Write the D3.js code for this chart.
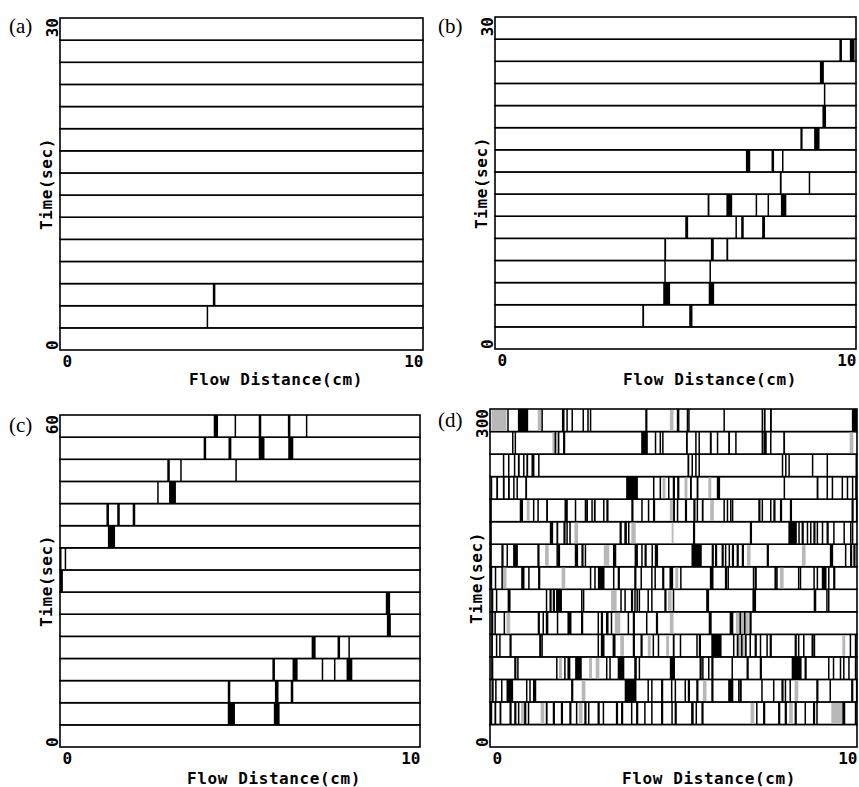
<!DOCTYPE html>
<html>
<head>
<meta charset="utf-8">
<script src="https://cdn.jsdelivr.net/npm/d3@7/dist/d3.min.js"></script>
<style>
  body { margin: 0; background: #fff; }
  .ax text { font-family: "DejaVu Sans Mono", monospace; font-weight: bold; font-size: 16px; fill: #000; }
  .tag { font-family: "Liberation Serif", serif; font-size: 21px; fill: #000; }
</style>
</head>
<body>
<svg id="chart" width="859" height="787"></svg>
<script>
// each row is one time step (row 0 = t=0, bottom), marks are [position cm, length cm]
const panelTags = ["(a)", "(b)", "(c)", "(d)"]
const timeMax = [30, 30, 60, 300]
const distTicks = [0, 10]

const aRows = [
  [],
  [[4.04, 0.04]],
  [[4.21, 0.07]],
  [], [], [], [], [], [], [], [], [], [], [], []
]

const bRows = [
  [],
  [[4.08, 0.05], [5.38, 0.09]],
  [[4.66, 0.19], [5.92, 0.15]],
  [[4.69, 0.04], [5.94, 0.04]],
  [[4.69, 0.05], [5.98, 0.08], [6.41, 0.05]],
  [[5.27, 0.08], [6.66, 0.04], [6.82, 0.07], [7.40, 0.08]],
  [[5.89, 0.05], [6.41, 0.16], [7.22, 0.04], [7.55, 0.04], [7.92, 0.15]],
  [[7.89, 0.05], [8.69, 0.04]],
  [[6.95, 0.12], [7.66, 0.07], [7.95, 0.04]],
  [[8.46, 0.06], [8.84, 0.15]],
  [[9.07, 0.10]],
  [[9.11, 0.04]],
  [[9.00, 0.11]],
  [[9.54, 0.07], [9.83, 0.13]],
  []
]

const cRows = [
  [],
  [[4.66, 0.20], [5.94, 0.16]],
  [[4.66, 0.07], [5.97, 0.10], [6.41, 0.07]],
  [[5.90, 0.07], [6.46, 0.14], [7.27, 0.04], [7.61, 0.04], [7.96, 0.16]],
  [[6.99, 0.11], [7.71, 0.07], [8.01, 0.04]],
  [[9.08, 0.11]],
  [[9.05, 0.12]],
  [[0.00, 0.08]],
  [[0.00, 0.04], [0.13, 0.04]],
  [[1.33, 0.20]],
  [[1.29, 0.07], [1.59, 0.07], [2.02, 0.07]],
  [[2.70, 0.04], [3.03, 0.19]],
  [[2.98, 0.07], [3.34, 0.04], [4.87, 0.04]],
  [[3.99, 0.07], [4.68, 0.08], [5.52, 0.16], [6.34, 0.14]],
  [[4.27, 0.12], [4.85, 0.04], [5.52, 0.07], [6.33, 0.07], [6.83, 0.04]]
]

const dRows = [
  [],
  [[0.00, 0.06], [0.12, 0.05], [0.26, 0.05], [0.53, 0.06], [0.66, 0.06], [0.76, 0.03], [0.93, 0.06], [1.03, 0.03],
   [1.52, 0.05], [1.71, 0.06], [1.93, 0.06], [2.16, 0.06], [2.34, 0.04], [2.57, 0.06], [2.67, 0.03], [2.93, 0.06],
   [3.07, 0.03], [3.43, 0.06], [3.57, 0.06], [3.84, 0.04], [3.98, 0.06], [4.20, 0.04], [4.39, 0.04], [4.66, 0.06],
   [4.94, 0.04], [5.03, 0.06], [5.48, 0.07], [5.60, 0.03], [5.76, 0.06], [7.25, 0.04], [7.44, 0.06], [7.85, 0.06],
   [8.03, 0.06], [8.30, 0.06], [8.57, 0.04], [8.80, 0.06], [8.89, 0.04], [9.60, 0.08], [9.94, 0.05]],
  [[0.04, 0.06], [0.14, 0.03], [0.30, 0.03], [0.45, 0.18], [0.98, 0.03], [1.07, 0.03], [1.17, 0.09], [2.21, 0.06],
   [3.67, 0.32], [4.29, 0.03], [4.39, 0.03], [4.66, 0.06], [4.93, 0.04], [5.03, 0.03], [5.30, 0.03], [5.39, 0.06],
   [5.62, 0.06], [6.03, 0.06], [6.49, 0.14], [6.76, 0.03], [6.80, 0.06], [7.39, 0.03], [7.71, 0.03], [7.94, 0.06],
   [8.03, 0.03], [8.16, 0.03], [8.89, 0.06], [9.25, 0.03], [9.84, 0.06], [9.97, 0.03]],
  [[0.03, 0.06], [0.66, 0.06], [0.74, 0.03], [1.80, 0.03], [2.02, 0.03], [2.11, 0.08], [2.32, 0.18], [3.16, 0.03],
   [3.25, 0.03], [3.48, 0.18], [3.93, 0.07], [4.05, 0.03], [4.90, 0.14], [5.71, 0.06], [5.78, 0.03], [5.94, 0.03],
   [6.03, 0.06], [6.58, 0.03], [6.99, 0.06], [7.35, 0.06], [8.22, 0.27], [8.57, 0.06], [9.21, 0.03], [9.34, 0.03],
   [9.53, 0.03], [9.62, 0.03], [9.76, 0.03], [9.94, 0.03]],
  [[0.03, 0.05], [0.16, 0.03], [0.25, 0.03], [0.53, 0.06], [1.34, 0.06], [1.40, 0.03], [2.93, 0.03], [3.02, 0.10],
   [3.34, 0.08], [3.89, 0.06], [4.10, 0.06], [4.43, 0.03], [4.57, 0.03], [4.98, 0.05], [5.17, 0.03], [5.62, 0.03],
   [5.69, 0.06], [6.03, 0.28], [6.62, 0.03], [6.73, 0.03], [6.84, 0.03], [6.95, 0.03], [7.07, 0.03], [7.21, 0.06],
   [7.35, 0.03], [7.53, 0.03], [7.62, 0.06], [8.30, 0.06], [8.39, 0.03], [8.53, 0.03], [8.76, 0.06], [8.82, 0.03],
   [9.80, 0.03], [9.94, 0.05]],
  [[0.03, 0.06], [0.12, 0.03], [0.37, 0.04], [1.30, 0.06], [1.43, 0.03], [1.52, 0.07], [1.82, 0.03], [2.11, 0.11],
   [2.48, 0.06], [2.93, 0.03], [3.02, 0.06], [3.16, 0.07], [3.29, 0.03], [3.75, 0.03], [3.89, 0.06], [4.25, 0.03],
   [4.52, 0.06], [5.96, 0.08], [6.53, 0.10], [6.80, 0.03], [6.92, 0.03], [7.07, 0.06]],
  [[0.03, 0.06], [0.16, 0.03], [0.48, 0.08], [1.52, 0.03], [1.62, 0.06], [1.71, 0.06], [1.80, 0.16], [2.48, 0.03],
   [2.53, 0.03], [3.55, 0.03], [3.66, 0.03], [3.84, 0.06], [3.93, 0.03], [3.99, 0.03], [4.05, 0.03], [4.29, 0.03],
   [4.39, 0.03], [4.75, 0.06], [4.98, 0.03], [5.89, 0.08], [7.15, 0.10], [8.82, 0.07], [9.16, 0.03], [9.21, 0.03]],
  [[0.00, 0.06], [0.13, 0.03], [0.31, 0.03], [0.85, 0.09], [1.04, 0.03], [1.31, 0.06], [2.72, 0.03], [2.84, 0.04],
   [2.94, 0.18], [3.35, 0.03], [3.48, 0.06], [3.93, 0.06], [4.10, 0.03], [4.39, 0.03], [4.48, 0.03], [4.69, 0.06],
   [4.89, 0.10], [5.18, 0.03], [5.99, 0.10], [6.40, 0.06], [6.47, 0.03], [7.16, 0.03], [7.21, 0.06], [7.75, 0.06],
   [7.80, 0.03], [8.39, 0.03], [8.44, 0.03], [8.81, 0.03], [8.90, 0.03], [9.04, 0.13], [9.21, 0.03], [9.35, 0.06]],
  [[0.00, 0.05], [0.31, 0.06], [0.45, 0.03], [0.63, 0.13], [1.29, 0.06], [1.81, 0.03], [1.85, 0.06], [2.31, 0.09],
   [2.49, 0.06], [2.58, 0.04], [3.35, 0.09], [3.94, 0.09], [4.12, 0.03], [4.21, 0.06], [4.40, 0.04], [4.49, 0.09],
   [5.49, 0.28], [6.04, 0.06], [6.13, 0.06], [6.31, 0.06], [6.40, 0.04], [6.50, 0.03], [6.59, 0.06], [6.72, 0.06],
   [6.86, 0.06], [7.54, 0.06], [9.26, 0.09], [9.67, 0.03], [9.81, 0.06], [9.90, 0.06]],
  [[0.00, 0.05], [1.63, 0.09], [1.81, 0.05], [2.00, 0.06], [2.08, 0.04], [2.16, 0.03], [3.53, 0.06], [3.66, 0.07],
   [3.76, 0.03], [5.53, 0.06], [7.08, 0.06], [8.13, 0.23], [8.40, 0.03], [8.49, 0.06], [8.63, 0.03], [8.72, 0.03],
   [8.81, 0.06], [8.90, 0.03], [9.04, 0.03], [9.17, 0.06], [9.35, 0.03], [9.63, 0.03], [9.81, 0.03], [9.86, 0.03]],
  [[0.00, 0.05], [0.81, 0.09], [1.17, 0.03], [1.29, 0.04], [1.53, 0.05], [2.03, 0.09], [2.31, 0.03], [2.58, 0.03],
   [2.62, 0.05], [2.76, 0.03], [2.83, 0.05], [3.08, 0.03], [3.17, 0.06], [3.85, 0.06], [4.12, 0.04], [4.30, 0.04],
   [4.44, 0.06], [4.99, 0.05], [5.09, 0.03], [5.31, 0.06], [5.54, 0.06], [5.63, 0.03], [5.77, 0.05], [6.36, 0.03],
   [6.45, 0.03], [6.54, 0.03], [6.59, 0.03], [7.31, 0.06], [7.40, 0.03], [7.63, 0.03], [7.72, 0.06], [7.90, 0.06],
   [8.17, 0.06], [9.85, 0.06], [9.97, 0.03]],
  [[0.02, 0.04], [0.17, 0.05], [0.35, 0.05], [0.49, 0.05], [0.63, 0.04], [0.72, 0.03], [0.96, 0.05], [3.71, 0.32],
   [4.44, 0.03], [4.62, 0.03], [4.85, 0.03], [4.98, 0.06], [5.10, 0.06], [5.45, 0.05], [5.63, 0.05], [6.18, 0.09],
   [8.00, 0.04], [8.90, 0.05], [9.17, 0.03], [9.31, 0.03], [9.58, 0.03], [9.72, 0.03], [9.86, 0.03], [9.95, 0.05]],
  [[0.35, 0.03], [0.49, 0.03], [0.65, 0.03], [0.76, 0.05], [0.90, 0.03], [0.99, 0.05], [1.13, 0.03], [1.17, 0.03],
   [1.31, 0.04], [5.38, 0.05], [5.49, 0.03], [5.59, 0.03], [5.68, 0.03], [7.95, 0.03], [8.04, 0.03], [8.13, 0.03],
   [8.77, 0.04], [9.17, 0.03], [9.96, 0.04]],
  [[0.60, 0.03], [0.67, 0.04], [1.76, 0.03], [1.85, 0.04], [1.99, 0.06], [4.12, 0.18], [4.49, 0.03], [4.62, 0.03],
   [4.69, 0.04], [5.34, 0.05], [5.59, 0.03], [5.68, 0.03], [5.99, 0.05], [6.18, 0.03], [6.49, 0.05], [6.68, 0.03],
   [7.40, 0.03], [7.45, 0.09], [7.63, 0.03], [7.99, 0.05]],
  [[0.47, 0.03], [0.76, 0.28], [1.40, 0.03], [1.96, 0.07], [2.08, 0.03], [2.22, 0.03], [2.52, 0.03], [2.65, 0.03],
   [2.72, 0.03], [4.23, 0.06], [5.09, 0.07], [5.36, 0.04], [5.40, 0.03], [6.36, 0.03], [7.40, 0.03], [7.46, 0.05],
   [7.63, 0.05], [9.86, 0.14]]
]

// faint (partly resolved) zones in panel d, [row, position cm, length cm]
const dFaint = [
  [1, 0.85, 0.08], [1, 1.38, 0.10], [1, 2.42, 0.10], [1, 7.10, 0.10], [1, 8.15, 0.10], [1, 9.30, 0.30],
  [2, 2.50, 0.10], [2, 5.80, 0.10], [2, 8.30, 0.10],
  [3, 1.88, 0.08], [3, 2.70, 0.08], [3, 2.88, 0.10],
  [4, 3.55, 0.10], [4, 4.30, 0.08], [4, 4.80, 0.08], [4, 6.70, 0.30], [4, 9.60, 0.08],
  [5, 0.45, 0.10], [5, 3.40, 0.15], [5, 4.90, 0.10], [5, 6.70, 0.35],
  [6, 3.30, 0.15], [6, 4.85, 0.10],
  [7, 0.35, 0.10], [7, 1.95, 0.10], [7, 5.05, 0.08], [7, 7.90, 0.10],
  [8, 1.50, 0.10], [8, 3.10, 0.15], [8, 7.00, 0.10], [8, 8.50, 0.10],
  [9, 2.30, 0.10], [9, 3.85, 0.12], [9, 4.95, 0.05],
  [10, 1.00, 0.08], [10, 4.90, 0.10], [10, 6.00, 0.10],
  [11, 4.70, 0.08], [11, 5.30, 0.08], [11, 5.95, 0.08],
  [13, 1.70, 0.15], [13, 6.00, 0.05], [13, 9.80, 0.10],
  [14, 0.04, 0.41], [14, 1.30, 0.10], [14, 4.90, 0.10]
]

const svg = d3.select('#chart')

const panels = [
  {rows: aRows, faint: [], box: [60, 423, 18, 350], tag: [9, 33], title: [276, 385]},
  {rows: bRows, faint: [], box: [495, 856, 17, 349], tag: [438, 33], title: [710, 385]},
  {rows: cRows, faint: [], box: [60, 420, 415, 747], tag: [9, 432], title: [274, 784]},
  {rows: dRows, faint: dFaint, box: [490, 857, 409, 747], tag: [438, 427], title: [709, 784]}
]

panels.forEach(function (p, i) {
  let [x0, x1, y0, y1] = p.box
  let g = svg.append('g')

  let x = d3.scaleLinear().domain([0, 10]).range([x0, x1])
  let row = d3.scaleBand().domain(d3.range(p.rows.length)).range([y1, y0])
  let t = d3.scaleLinear().domain([0, timeMax[i]]).range([y1, y0])
  let bw = row.bandwidth()

  // row strips
  g.selectAll('rect.strip')
    .data(p.rows)
    .join('rect')
    .attr('class', 'strip')
    .attr('x', x(0))
    .attr('y', (d, k) => row(k))
    .attr('width', x(10) - x(0))
    .attr('height', bw)
    .attr('fill', '#fff')
    .attr('stroke', '#000')
    .attr('stroke-width', 1.6)

  // faint zones
  g.selectAll('rect.faint')
    .data(p.faint)
    .join('rect')
    .attr('class', 'faint')
    .attr('x', d => x(d[1]))
    .attr('y', d => row(d[0]) + 1)
    .attr('width', d => x(d[1] + d[2]) - x(d[1]))
    .attr('height', bw - 2)
    .attr('fill', '#b8b8b8')

  // slug marks
  let marks = []
  p.rows.forEach((r, k) => r.forEach(m => marks.push({k: k, pos: m[0], len: m[1]})))
  g.selectAll('rect.mark')
    .data(marks)
    .join('rect')
    .attr('class', 'mark')
    .attr('x', d => x(d.pos))
    .attr('y', d => row(d.k))
    .attr('width', d => Math.max(1.5, x(d.pos + d.len) - x(d.pos)))
    .attr('height', bw)
    .attr('fill', '#000')

  // distance axis
  let xa = g.append('g')
    .attr('class', 'ax')
    .attr('transform', `translate(0,${y1})`)
    .call(d3.axisBottom(x).tickValues(distTicks).tickSize(0).tickFormat(d3.format('d')))
  xa.select('.domain').remove()
  xa.selectAll('text')
    .attr('y', 17)
    .attr('dy', 0)
    .attr('text-anchor', (d, j) => j === 0 ? 'start' : 'end')
    .attr('dx', (d, j) => j === 0 ? 2 : 0)

  // time axis
  let ya = g.append('g')
    .attr('class', 'ax')
    .attr('transform', `translate(${x0 - 2},0)`)
    .call(d3.axisLeft(t).tickValues([0, timeMax[i]]).tickSize(0))
  ya.select('.domain').remove()
  ya.selectAll('.tick').attr('transform', null)
  ya.selectAll('text')
    .attr('x', 0).attr('dy', 0).attr('y', 0)
    .attr('text-anchor', d => d === 0 ? 'start' : 'end')
    .attr('transform', d => `translate(0,${t(d)}) rotate(-90)`)

  g.append('text')
    .attr('class', 'tag')
    .attr('x', p.tag[0])
    .attr('y', p.tag[1])
    .text(panelTags[i])

  let lab = g.append('g').attr('class', 'ax')
  lab.append('text')
    .attr('x', p.title[0])
    .attr('y', p.title[1])
    .attr('text-anchor', 'middle')
    .style('letter-spacing', '0.6px')
    .text('Flow Distance(cm)')
  lab.append('text')
    .attr('transform', `translate(${x0 - 8},${(y0 + y1) / 2}) rotate(-90)`)
    .attr('text-anchor', 'middle')
    .style('letter-spacing', '0.6px')
    .text('Time(sec)')
})
</script>
</body>
</html>
